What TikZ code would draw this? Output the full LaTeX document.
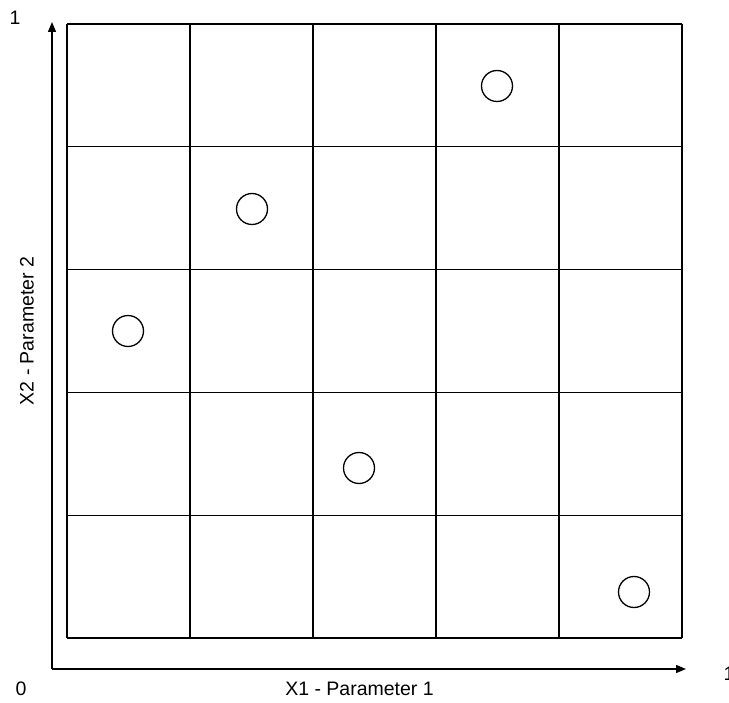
\documentclass[tikz,border=0pt]{standalone}
\usepackage{fontspec}
\setmainfont{Liberation Sans}
\usetikzlibrary{arrows.meta}
\tikzset{
  cellline/.style  = {line width=1.3pt,black},
  axisarr/.style   = {-{Triangle[length=10pt,width=8pt]},line width=1.3pt},
  samplept/.style  = {circle,draw,line width=1.3pt,minimum size=31pt,inner sep=0pt},
  ticklbl/.style   = {font=\fontsize{19.5}{23}\selectfont},
  axislbl/.style   = {font=\fontsize{19.5}{23}\selectfont}
}

\begin{document}
\begin{tikzpicture}[x=1pt,y=-1pt]
  \useasboundingbox (0,0) rectangle (729,703);
  % 5x5 grid of cells
  \foreach \i in {0,...,5} {
    \draw[cellline] ({67+123*\i},24) -- ({67+123*\i},638);
    \draw[cellline] (67,{24+122.8*\i}) -- (682,{24+122.8*\i});
  }
  % axes
  \coordinate (orig) at (52,669);
  \coordinate (ytop) at (52,22);
  \coordinate (xend) at (686,669);
  \draw[axisarr] (orig) -- (ytop);
  \draw[axisarr] (orig) -- (xend);
  \node[ticklbl] (yone) at (15,18) {1};
  \node[ticklbl] (zero) at (21,689) {0};
  \node[ticklbl] (xone) at (729,674) {1};
  \node[axislbl] (xlbl) at (359.5,689) {X1 - Parameter 1};
  \node[axislbl,rotate=90] (ylbl) at (27,331) {X2 - Parameter 2};
  % one sample per row and column
  \node[samplept] (s1) at (497,86) {};
  \node[samplept] (s2) at (252,209) {};
  \node[samplept] (s3) at (128,331) {};
  \node[samplept] (s4) at (359,468) {};
  \node[samplept] (s5) at (634,592) {};
\end{tikzpicture}
\end{document}
